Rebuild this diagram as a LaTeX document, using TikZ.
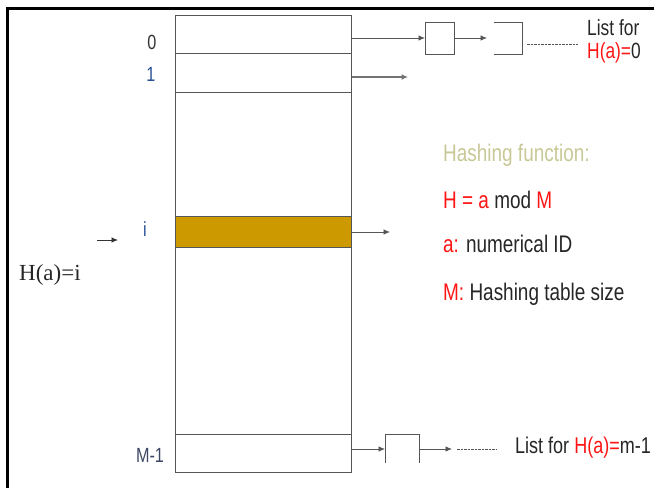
\documentclass[tikz,border=0pt]{standalone}
\usepackage{fontspec}
\setmainfont{Liberation Sans}[FakeStretch=0.79]
\newfontfamily\serifont{Liberation Serif}
\usetikzlibrary{arrows.meta}
\definecolor{gold}{RGB}{204,153,0}
\definecolor{khaki}{RGB}{200,200,150}
\definecolor{redt}{RGB}{255,20,20}
\definecolor{blu}{RGB}{40,80,150}
\definecolor{slateb}{RGB}{60,70,100}
\definecolor{linegray}{RGB}{85,85,85}
\begin{document}
\begin{tikzpicture}[x=1pt,y=-1pt,
  rowbox/.style={draw=linegray,line width=1.2pt,minimum width=176pt,inner sep=0pt,anchor=north west},
  lbox/.style={minimum width=29pt,minimum height=32pt,inner sep=0pt,anchor=north west},
  arr/.style={draw=linegray,line width=0.8pt,-{Latex[length=6.5pt,width=5.5pt]}},
  dots/.style={draw=linegray,line width=0.7pt,dash pattern=on 2.5pt off 1pt},
  txt/.style={anchor=base west,inner sep=0pt,font=\fontsize{24}{26}\selectfont,text=black!85},
  rlabel/.style={anchor=base,inner sep=0pt,font=\fontsize{20.5}{22}\selectfont}]
\useasboundingbox (0,0) rectangle (654,488);
% frame
\draw[line width=3pt] (7,488) -- (7,8.5) -- (654,8.5);
% table
\node[rowbox,minimum height=457pt] (table) at (175,15) {};
\node[rowbox,minimum height=38pt] (row0) at (175,15) {};
\node[rowbox,minimum height=39pt] (row1) at (175,53) {};
\node[rowbox,minimum height=31pt,fill=gold] (rowi) at (175,216) {};
\node[rowbox,minimum height=38pt] (rowm) at (175,434) {};
% row labels
\node[rlabel,text=black!80] (l0) at (152,49) {0};
\node[rlabel,text=blu] (l1) at (151,81) {1};
\node[rlabel,text=blu] (li) at (145,236) {i};
\node[rlabel,text=slateb] (lm) at (150,462) {M-1};
% list for row 0
\node[lbox,draw=linegray,line width=1pt] (b0a) at (425,22) {};
\node[lbox,minimum width=28pt] (b0b) at (494,22) {};
\draw[linegray,line width=1pt] (b0b.north west) -- (b0b.north east) -- (b0b.south east) -- (b0b.south west);
\draw[arr] (row0.east |- 0,38) -- (b0a.west |- 0,38);
\draw[arr] (b0a.east |- 0,38) -- (487,38) coordinate (a0end);
\coordinate (d0s) at (527,44);
\coordinate (d0e) at (578,44);
\draw[dots] (d0s) -- (d0e);
\node[txt,font=\fontsize{22}{24}\selectfont] (list0a) at (587,35) {List for};
\node[txt,font=\fontsize{22}{24}\selectfont] (list0b) at (587,58) {\textcolor{redt}{H(a)=}0};
% row 1 arrow
\coordinate (a1e) at (408,77);
\draw[draw=black!55,line width=1.8pt,-{Latex[length=6.5pt,width=6pt]}] (row1.east |- 0,77) -- (a1e);
% row i arrow
\coordinate (aie) at (390,232);
\draw[arr] (rowi.east |- 0,232) -- (aie);
% incoming arrow
\coordinate (ins) at (97,240);
\coordinate (ine) at (118,240);
\draw[arr,draw=black!80] (ins) -- (ine);
\node[anchor=base west,inner sep=0pt,font=\serifont\fontsize{23}{25}\selectfont,text=black!85] (hai) at (19,280) {H(a)=i};
% list for row M-1
\node[lbox,minimum width=34pt,minimum height=29pt] (bm) at (385,434) {};
\draw[linegray,line width=1pt] (bm.south west) -- (bm.north west) -- (bm.north east) -- (bm.south east);
\draw[arr] (rowm.east |- 0,449) -- (bm.west |- 0,449);
\draw[arr] (bm.east |- 0,449) -- (452,449) coordinate (amend);
\coordinate (dms) at (457,449);
\coordinate (dme) at (497,449);
\draw[dots] (dms) -- (dme);
\node[txt,font=\fontsize{22.8}{24}\selectfont] (listm) at (515,453) {List for \textcolor{redt}{H(a)=}m-1};
% hashing function text
\node[txt,text=khaki] (hf) at (443,161) {Hashing function:};
\node[txt] (h1) at (443,208) {\textcolor{redt}{H = a} mod \textcolor{redt}{M}};
\node[txt] (h2) at (443,252) {\textcolor{redt}{a:} numerical ID};
\node[txt] (h3) at (443,300) {\textcolor{redt}{M:} Hashing table size};
\end{tikzpicture}
\end{document}
